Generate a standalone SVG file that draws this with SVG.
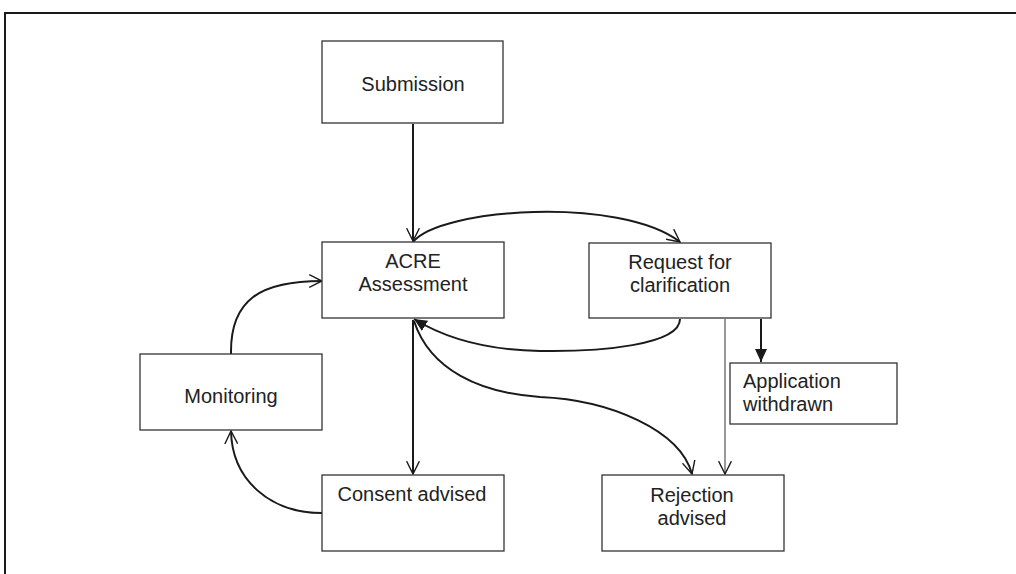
<svg xmlns="http://www.w3.org/2000/svg" width="1016" height="574" viewBox="0 0 1016 574">
<style>
.box{fill:#fff;stroke:#333;stroke-width:1.3}
.lbl{font-family:"Liberation Sans",Arial,sans-serif;font-size:20px;fill:#222;text-anchor:middle}
.lbl-l{font-family:"Liberation Sans",Arial,sans-serif;font-size:20px;fill:#222}
.con{fill:none;stroke:#1a1a1a;stroke-width:2}
.thin{fill:none;stroke:#444;stroke-width:1.1}
</style>
<defs>
<marker id="open" markerUnits="userSpaceOnUse" markerWidth="14" markerHeight="14" viewBox="0 0 12 12" refX="11" refY="6" orient="auto">
<path d="M0,0.5 L11,6 L0,11.5" fill="none" stroke="#1a1a1a" stroke-width="1.2"/>
</marker>
<marker id="fill" markerUnits="userSpaceOnUse" markerWidth="14" markerHeight="14" viewBox="0 0 14 14" refX="13" refY="7" orient="auto">
<path d="M0,1 L13,7 L0,13 Z" fill="#1a1a1a"/>
</marker>
</defs>
<rect width="1016" height="574" fill="#fff"/>
<path d="M5,574 V13 H1016" fill="none" stroke="#1a1a1a" stroke-width="2"/>
<g id="connectors">
<path class="con" d="M413,124 V241" marker-end="url(#open)"/>
<path class="con" d="M413,242 C440,208 620,196 680,242" marker-end="url(#open)"/>
<path class="con" d="M680,319 C680,345 600,352 540,351 C480,350 440,335 414,319" marker-end="url(#fill)"/>
<path class="con" d="M414,321 C430,370 480,393 540,397 C610,400 680,430 692,474" marker-end="url(#open)"/>
<path class="con" d="M413,320 V474" marker-end="url(#open)"/>
<path class="thin" d="M725,319 V474" marker-end="url(#open)"/>
<path class="con" d="M761,319 V362" stroke-width="1.5" marker-end="url(#fill)"/>
<path class="con" d="M322,513 C270,513 232,480 231,431" marker-end="url(#open)"/>
<path class="con" d="M231,354 C230,300 260,281 322,281" marker-end="url(#open)"/>
</g>
<g id="submission"><rect class="box" x="322" y="41" width="181" height="82"/><text class="lbl" x="413" y="91">Submission</text></g>
<g id="acre"><rect class="box" x="322" y="242" width="182" height="76"/><text class="lbl" x="413" y="268">ACRE</text><text class="lbl" x="413" y="291">Assessment</text></g>
<g id="request"><rect class="box" x="589" y="243" width="182" height="75"/><text class="lbl" x="680" y="269">Request for</text><text class="lbl" x="680" y="292">clarification</text></g>
<g id="withdrawn"><rect class="box" x="730" y="363" width="167" height="61"/><text class="lbl-l" x="743" y="388">Application</text><text class="lbl-l" x="743" y="411">withdrawn</text></g>
<g id="monitoring"><rect class="box" x="140" y="354" width="182" height="76"/><text class="lbl" x="231" y="403">Monitoring</text></g>
<g id="consent"><rect class="box" x="322" y="475" width="182" height="76"/><text class="lbl" x="412" y="501">Consent advised</text></g>
<g id="rejection"><rect class="box" x="602" y="475" width="182" height="76"/><text class="lbl" x="692" y="502">Rejection</text><text class="lbl" x="692" y="525">advised</text></g>
</svg>
